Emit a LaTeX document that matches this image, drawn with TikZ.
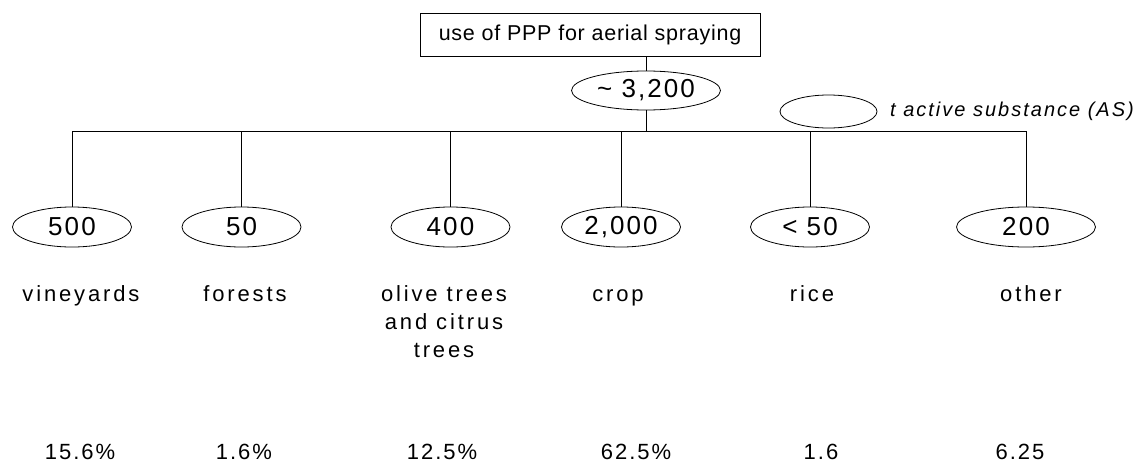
\documentclass[tikz,border=0pt]{standalone}
\usepackage{fontspec}
\setmainfont{Liberation Sans}
\newfontfamily\ttlfont[LetterSpace=3.5]{Liberation Sans}
\newfontfamily\numfont[LetterSpace=8]{Liberation Sans}
\newfontfamily\lblfont[LetterSpace=13]{Liberation Sans}
\newfontfamily\pctfont[LetterSpace=9]{Liberation Sans}
\newfontfamily\legfont[LetterSpace=10]{Liberation Sans}
\usetikzlibrary{shapes.geometric}
\tikzset{
  conn/.style={draw=black, line width=1pt},
  titlebox/.style={draw=black, line width=1pt, minimum width=340pt, minimum height=43pt, inner sep=0pt, font=\ttlfont\fontsize{21.5}{25}\selectfont},
  val/.style={ellipse, draw=black, line width=0.8pt, minimum width=119pt, minimum height=40pt, inner sep=0pt, font=\numfont\fontsize{26}{30}\selectfont},
  lbl/.style={anchor=north, align=center, inner sep=0pt, font=\lblfont\fontsize{22}{28}\selectfont},
  pct/.style={anchor=base, inner sep=0pt, font=\pctfont\fontsize{22}{26}\selectfont},
}
\begin{document}
\begin{tikzpicture}[x=1pt,y=-1pt]
\useasboundingbox (0,0) rectangle (1143,463);
\node[titlebox] (title) at (590,34.5) {use of PPP for aerial spraying};
\node[val, minimum width=149pt, minimum height=39pt] (top) at (646,90.5) {\textasciitilde{} 3,200};
\coordinate (barL) at (72,131);
% legend
\node[ellipse, draw=black, line width=0.8pt, minimum width=97pt, minimum height=33pt, inner sep=0pt] (leg) at (828.5,111.5) {};
\node[anchor=west, inner sep=0pt, font=\legfont\itshape\fontsize{20}{24}\selectfont] (legtxt) at (890,111.5) {t active substance (AS)};
% values
\node[val] (n1) at (72,227) {500};
\node[val] (n2) at (241.5,227) {50};
\node[val] (n3) at (450.5,227) {400};
\node[val] (n4) at (621,227) {2,000};
\node[val] (n5) at (810,227) {< 50};
\node[val, minimum width=139pt] (n6) at (1026,227) {200};
% connectors
\draw[conn] (title.south -| top) -- (top.north);
\draw[conn] (top.south) -- (top.south |- barL);
\draw[conn] (n1.north |- barL) -- (n6.north |- barL);
\foreach \n in {n1,n2,n3,n4,n5,n6}{
  \draw[conn] (\n.north |- barL) -- (\n.north);
}
% labels
\node[lbl] (l1) at (81,285) {\vphantom{d}vineyards};
\node[lbl] (l2) at (245,285) {\vphantom{d}forests};
\node[lbl] (l3) at (444,285) {\vphantom{d}olive trees\\and citrus\\trees};
\node[lbl] (l4) at (618,285) {\vphantom{d}crop};
\node[lbl] (l5) at (812,285) {\vphantom{d}rice};
\node[lbl] (l6) at (1031,285) {\vphantom{d}other};
% percentages
\node[pct] (p1) at (80,459) {15.6\%};
\node[pct] (p2) at (244,459) {1.6\%};
\node[pct] (p3) at (442,459) {12.5\%};
\node[pct] (p4) at (636,459) {62.5\%};
\node[pct] (p5) at (821,459) {1.6};
\node[pct] (p6) at (1020,459) {6.25};
\end{tikzpicture}
\end{document}
